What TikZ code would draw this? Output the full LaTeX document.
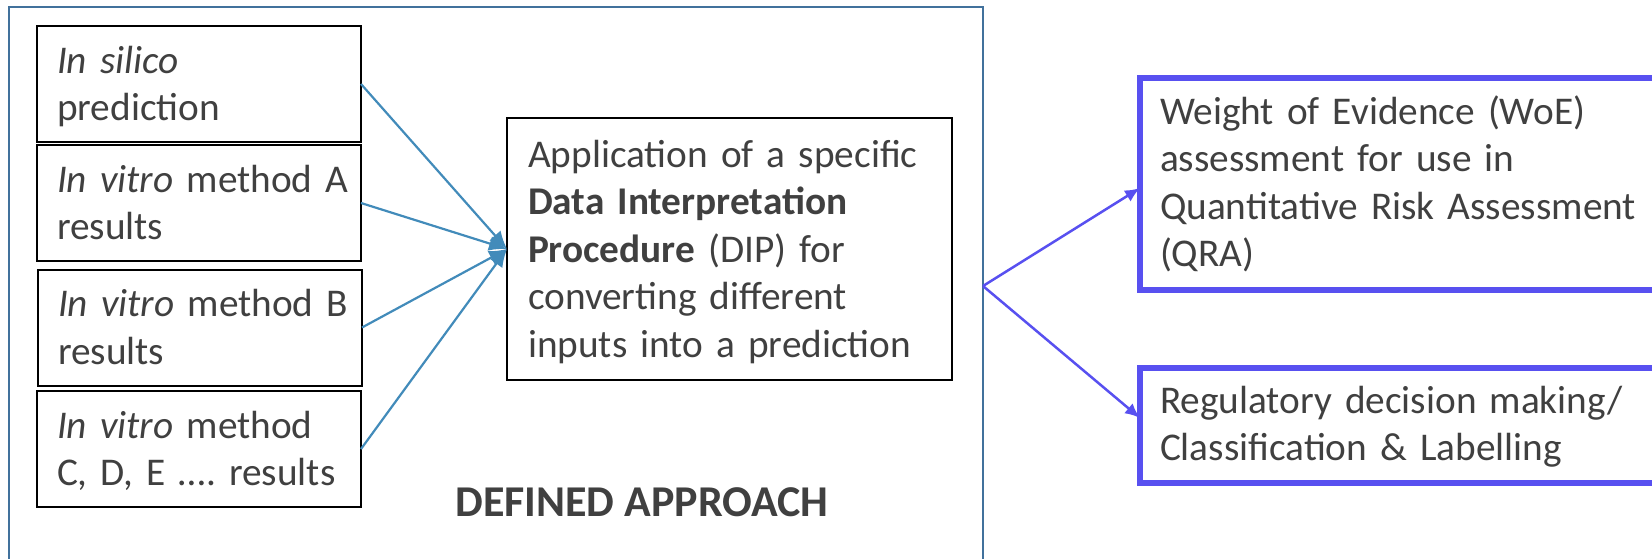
\documentclass[tikz,border=0pt]{standalone}
\usepackage{fontspec}
\setmainfont{Carlito}
\usetikzlibrary{arrows.meta}
\definecolor{framecol}{RGB}{65,113,156}
\definecolor{linkcol}{RGB}{66,139,186}
\definecolor{outcol}{RGB}{88,80,240}
\definecolor{txt}{RGB}{64,64,64}
\newcommand\lftop{\rule{0pt}{38pt}}
\newcommand\rttop{\rule{0pt}{35pt}}
\newcommand\lfbot{\rule[-12pt]{0pt}{12pt}}
\begin{document}
\begin{tikzpicture}[x=1pt,y=-1pt,
  every node/.style={text=txt,outer sep=0pt,font=\fontsize{39.3}{47.5}\selectfont},
  inbox/.style={draw=black,line width=2pt,text width=284pt,align=left,inner xsep=20pt,inner ysep=0pt,minimum height=116pt},
  dipbox/.style={draw=black,line width=2pt,text width=403pt,align=left,inner xsep=21pt,inner ysep=0pt,minimum height=262pt},
  outbox/.style={draw=outcol,line width=5.5pt,text width=520pt,align=left,inner xsep=20pt,inner ysep=0pt,anchor=west},
  link/.style={draw=linkcol,line width=2.2pt,-{Latex[length=18pt,width=15pt]}},
  outlink/.style={draw=outcol,line width=2.5pt,-{Latex[length=15pt,width=13pt]}}]
\useasboundingbox (0,0) rectangle (1652,558);
\clip (0,0) rectangle (1652,558);
\node[draw=framecol,line width=2.7pt,minimum width=974pt,minimum height=620pt,anchor=north west,inner sep=0pt] (frame) at (9,7) {};
\node[inbox] (b1) at (199,84) {\lftop\textit{In~silico}\\prediction\lfbot};
\node[inbox] (b2) at (199,203) {\lftop\textit{In~vitro}~method~A\\results\lfbot};
\node[inbox] (b3) at (200,327.5) {\lftop\textit{In~vitro}~method~B\\results\lfbot};
\node[inbox] (b4) at (199,449) {\lftop\textit{In~vitro}~method\\C,~D,~E~….~results\lfbot};
\node[dipbox] (dip) at (729.5,249) {\lftop Application of a specific\\\textbf{Data Interpretation}\\\textbf{Procedure} (DIP) for\\converting different\\inputs into a prediction\lfbot};
\node[font=\bfseries\fontsize{44}{50}\selectfont] (da) at (642,502) {DEFINED APPROACH};
\node[outbox,minimum height=212pt] (woe) at (1140,184) {\rttop Weight of Evidence (WoE)\\assessment for use in\\Quantitative Risk Assessment\\(QRA)\lfbot};
\node[outbox,minimum height=115pt] (reg) at (1140,425.5) {\rttop Regulatory decision making/\\Classification \& Labelling\lfbot};
\draw[link] (b1.east) -- (dip.west);
\draw[link] (b2.east) -- (dip.west);
\draw[link] (b3.east) -- (dip.west);
\draw[link] (b4.east) -- (dip.west);
\coordinate (br) at (983,286);
\draw[outlink] (br) -- ([yshift=-4pt]woe.west);
\draw[outlink] (br) -- ([yshift=7.5pt]reg.west);
\end{tikzpicture}
\end{document}
